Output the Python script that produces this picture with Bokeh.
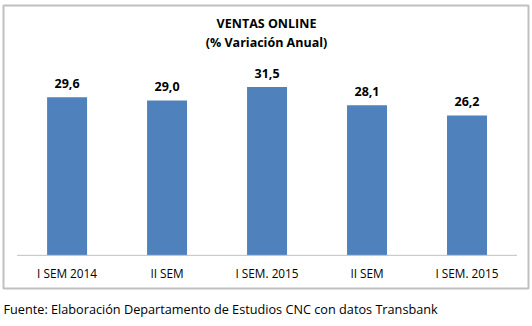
from bokeh.plotting import figure
from bokeh.models import ColumnDataSource, Range1d, LabelSet, Label, Title
from bokeh.core.properties import value
from bokeh.embed import file_html
from bokeh.resources import INLINE

# ---- data ----
categories = ["I SEM 2014", "II SEM", "I SEM. 2015", "II SEM", "I SEM. 2015"]
values = [29.6, 29.0, 31.5, 28.1, 26.2]
title_lines = ["VENTAS ONLINE", "(% Variación Anual)"]
source_note = "Fuente: Elaboración Departamento de Estudios CNC con datos Transbank"

idx = list(range(len(categories)))
value_text = [f"{v:.1f}".replace(".", ",") for v in values]
src = ColumnDataSource(dict(x=idx, top=values, lbl=value_text, cat=categories,
                            base=[0] * len(values)))

FONT = "Open Sans"
BAR = "#4F81BD"
GRAY = "#c0c0c0"

n = len(categories)
p = figure(width=532, height=326,
           x_range=Range1d(-0.636, n - 1 + 0.615),
           y_range=Range1d(-6.21, 46.77),
           x_axis_location=None, y_axis_location=None,
           output_backend="svg", toolbar_location=None,
           min_border_left=3, min_border_right=4, min_border_top=5,
           min_border_bottom=36)
p.outline_line_color = GRAY
p.outline_line_width = 2
p.xgrid.visible = False
p.ygrid.visible = False
p.background_fill_color = "white"
p.border_fill_color = "white"

p.vbar(x="x", top="top", width=0.4, bottom=0, source=src, fill_color=BAR,
       line_color=None)

# category baseline
p.segment(x0=[-0.5], x1=[n - 0.5], y0=[0], y1=[0], line_color=GRAY, line_width=1)

# value labels
p.add_layout(LabelSet(x="x", y="top", text="lbl", source=src, text_align="center",
                      text_baseline="middle", y_offset=14, text_font=value(FONT),
                      text_font_size="12.5px", text_font_style="bold",
                      text_color="#000000"))
# category labels
p.add_layout(LabelSet(x="x", y="base", text="cat", source=src, text_align="center",
                      text_baseline="middle", y_offset=-18, text_font=value(FONT),
                      text_font_size="11.8px", text_color="#000000"))

for txt, yy in zip(title_lines, [265, 246]):
    p.add_layout(Label(x=263, y=yy, x_units="screen", y_units="screen", text=txt,
                       text_align="center", text_baseline="middle", text_font=FONT,
                       text_font_size="12.5px", text_font_style="bold",
                       text_color="#000000"))

p.add_layout(Title(text=source_note, align="left", text_font=FONT,
                   text_font_size="12.7px", text_font_style="normal",
                   text_color="#000000", standoff=18), "below")

open("out.html", "w").write(file_html(p, INLINE))
